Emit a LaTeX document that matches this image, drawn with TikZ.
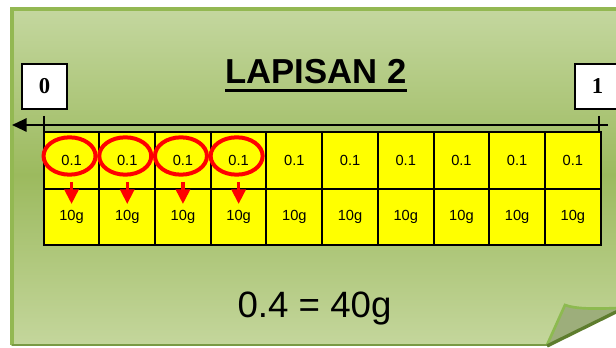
\documentclass[tikz,border=0pt]{standalone}
\usepackage{fontspec}
\setmainfont{Liberation Sans}
\newfontfamily\numfont{Liberation Serif}
\usepackage{xcolor}
\definecolor{paneltop}{HTML}{C4D79F}
\definecolor{panelmid}{HTML}{9CBA5E}
\definecolor{panelbot}{HTML}{C4D69C}
\definecolor{panelrim}{HTML}{93B852}
\definecolor{paneldark}{HTML}{7A9A44}
\definecolor{flapgrey}{HTML}{9DAE7B}
\definecolor{flaprim}{HTML}{8DBA50}
\definecolor{flapshadow}{HTML}{5E7D2E}
\definecolor{cellyellow}{HTML}{FFFF00}
\definecolor{ringred}{HTML}{FF0000}
\usetikzlibrary{positioning, arrows.meta, shapes.geometric}

\begin{document}
\begin{tikzpicture}[x=0.75pt, y=-0.75pt,
  cell/.style={draw=black, line width=1.5pt, fill=cellyellow, outer sep=0pt,
    minimum width=41.8pt, minimum height=42.4pt, inner sep=0pt,
    font=\fontsize{11}{13}\selectfont},
  ring/.style={ellipse, draw=ringred, line width=3pt, minimum width=39pt,
    minimum height=28pt, inner sep=0pt},
  downarrow/.style={draw=ringred, line width=2.4pt, -{Triangle[width=10.5pt, length=11pt]}},
  markbox/.style={draw=black, line width=1.5pt, fill=white, minimum width=33.75pt,
    minimum height=33.75pt, inner sep=0pt, font=\numfont\bfseries\fontsize{17}{19}\selectfont}]
  \useasboundingbox (0,0) rectangle (616,348);

  % panel with folded corner
  \shade[top color=paneltop, bottom color=panelmid] (11,9) rectangle (640,175);
  \shade[top color=panelmid, bottom color=panelbot] (11,174.5) rectangle (640,345);
  \draw[panelrim, line width=3pt] (12,345) -- (12,9) -- (640,9);
  \draw[paneldark, line width=2pt] (12,345) -- (547,345);
  \fill[white] (547,346.5) -- (640,300) -- (640,350) -- (540,350) -- cycle;
  \fill[flapgrey] (547,345) -- (565,305) .. controls (575,309) and (595,309) .. (616,309)
    -- (616,312) -- cycle;
  \draw[flaprim, line width=2pt] (547,345) -- (565,305) .. controls (575,309) and (595,309) .. (618,308);
  \draw[flapshadow, line width=2.5pt] (547,346) -- (618,311);

  % title
  \node[anchor=base, inner sep=0pt, font=\bfseries\fontsize{26}{30}\selectfont]
    (title) at (316,84) {LAPISAN 2};
  \draw[line width=2.2pt] ([yshift=-5pt]title.base west) -- ([yshift=-5pt]title.base east);

  % number line
  \node[markbox] (zero) at (44.5,86.5) {0};
  \node[markbox] (one) at (597.5,86.5) {1};
  \coordinate (lineend) at (608,125);
  \coordinate (linetip) at (12,125);
  \draw[line width=1.5pt, -{Triangle[width=10pt, length=11pt]}] (lineend) -- (linetip);
  \draw[line width=1.5pt] (44,116) -- (44,131);
  \draw[line width=1.5pt] (599,116) -- (599,132);

  % strip of ten tenths
  \foreach \i in {1,...,10} {
    \node[cell] (top\i) at ({43.7+55.7*(\i-0.5)},160.5) {0.1};
    \node[cell] (low\i) at ({43.7+55.7*(\i-0.5)},217) {10g};
  }

  % the four chosen tenths
  \foreach \i in {1,...,4} {
    \node[ring] (ring\i) at ({41.7+55.7*(\i-0.5)},156) {};
    \coordinate (tip\i) at ({43.7+55.7*(\i-0.5)},204);
    \draw[downarrow] ({43.7+55.7*(\i-0.5)},182) -- (tip\i);
  }

  % result
  \node[anchor=base, inner sep=0pt, font=\fontsize{27.5}{32}\selectfont]
    (result) at (314.5,317) {0.4 = 40g};
\end{tikzpicture}
\end{document}
